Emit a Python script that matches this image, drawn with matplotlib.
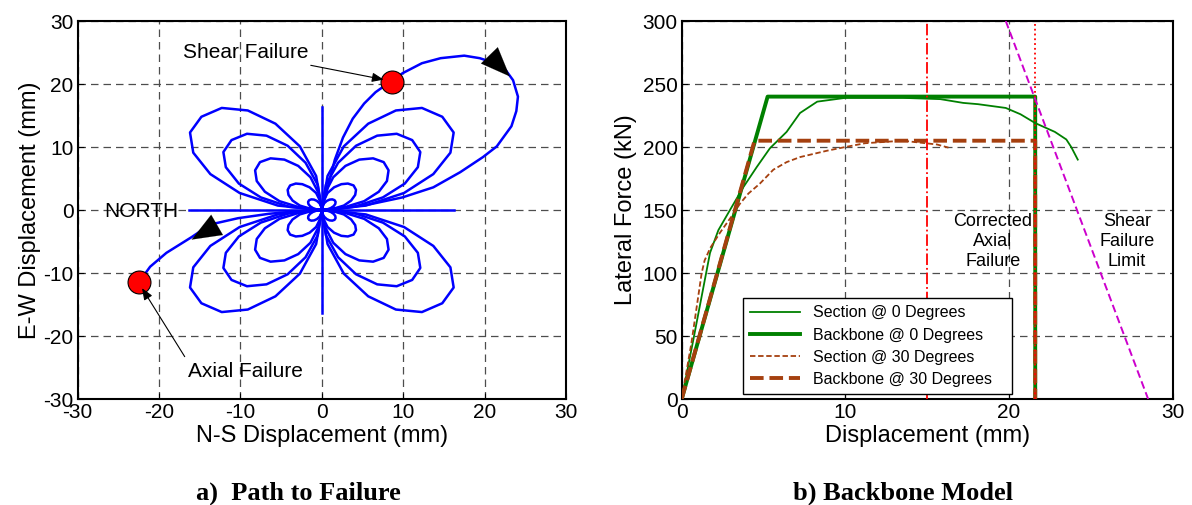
import numpy as np
import matplotlib.pyplot as plt

plt.rcParams['font.family'] = ['Liberation Sans', 'DejaVu Sans']
plt.rcParams['axes.unicode_minus'] = False

# ---- a) path to failure: quarter-petal outlines (first quadrant), mirrored to the others
petal1_x = [0, 0.57, 1.06, 1.44, 1.65, 1.69, 1.56, 1.29, 0.95, 0.60, 0.28, 0.07, 0]
petal1_y = [0, 0.07, 0.28, 0.60, 0.95, 1.29, 1.56, 1.69, 1.65, 1.44, 1.06, 0.57, 0]
petal2_x = [0, 1.4, 2.7, 3.6, 4.1, 4.2, 3.9, 3.2, 2.4, 1.5, 0.7, 0.2, 0]
petal2_y = [0, 0.2, 0.7, 1.5, 2.4, 3.2, 3.9, 4.2, 4.1, 3.6, 2.7, 1.4, 0]
petal3_x = [0, 2.7, 5.2, 7.0, 8.0, 8.2, 7.6, 6.3, 4.6, 2.9, 1.4, 0.4, 0]
petal3_y = [0, 0.4, 1.4, 2.9, 4.6, 6.3, 7.6, 8.2, 8.0, 7.0, 5.2, 2.7, 0]
petal4_x = [0, 4.0, 7.5, 10.2, 11.8, 12.1, 11.1, 9.2, 6.8, 4.2, 2.0, 0.5, 0]
petal4_y = [0, 0.5, 2.0, 4.2, 6.8, 9.2, 11.1, 12.1, 11.8, 10.2, 7.5, 4.0, 0]
petal5_x = [0, 5.4, 10.1, 13.7, 15.8, 16.2, 14.8, 12.3, 9.1, 5.7, 2.7, 0.7, 0]
petal5_y = [0, 0.7, 2.7, 5.7, 9.1, 12.3, 14.8, 16.2, 15.8, 13.7, 10.1, 5.4, 0]
quadrant_signs = [(1, 1), (-1, 1), (-1, -1), (1, -1)]
axis_reach = [-16.3, 16.3]

shear_path_x = [0, 0.8, 1.6, 2.6, 3.8, 5.2, 6.6, 7.8, 8.6, 9.9, 12.3, 14.6, 17.5, 19.4, 21.3,
                22.6, 23.5, 24.1, 23.9, 23.3, 21.5, 19.8, 17.0, 13.7, 9.9, 5.7, 1.9, 0]
shear_path_y = [0, 4.0, 8.0, 11.5, 14.5, 16.9, 18.7, 19.8, 20.3, 21.7, 23.3, 24.1, 24.5, 24.1, 23.3,
                22.2, 20.6, 18.0, 15.7, 13.3, 10.1, 8.4, 6.0, 3.6, 2.0, 0.85, 0.15, 0]
axial_path_x = [0, -3.0, -6.5, -10.3, -13.7, -16.0, -19.1, -21.1, -22.5]
axial_path_y = [0, -0.2, -0.6, -1.3, -2.3, -4.3, -6.8, -9.0, -11.5]
shear_pt = (8.6, 20.3)
axial_pt = (-22.5, -11.5)
dir_arrows = [((21.0, 24.0), (23.1, 21.2)), ((-13.2, -2.6), (-16.0, -4.7))]

# ---- b) backbone model
sec0_x = [0, 0.71, 1.73, 2.24, 2.95, 3.76, 4.58, 5.39, 6.41, 7.23, 8.28, 10.0, 13.5, 15.8,
          17.2, 18.1, 19.8, 20.7, 21.6, 22.8, 23.5, 23.8, 24.2]
sec0_y = [0, 47, 116, 134, 150, 168, 184, 199, 212, 227, 236, 239, 239, 238,
          235, 234, 231, 226, 219, 212, 206, 200, 190]
bb0_x = [0, 5.25, 21.6, 21.6]
bb0_y = [0, 240, 240, 0]
sec30_x = [0, 0.6, 1.22, 1.4, 1.75, 2.34, 3.05, 3.56, 4.07, 4.78, 5.6, 6.41, 7.23, 8.86,
           10.0, 11.2, 13.5, 14.9, 15.6, 16.3]
sec30_y = [0, 45, 100, 110, 120, 132, 145, 155, 163, 171, 182, 188, 192, 197,
           200, 203, 205, 203, 202, 199.5]
bb30_x = [0, 4.45, 21.6, 21.6]
bb30_y = [0, 205, 205, 0]
axial_corr_x = 15.0
axial_fail_x = 21.6
shear_lim_x = [19.8, 28.5]
shear_lim_y = [300, 0]

fig = plt.figure(figsize=(11.92, 5.05), dpi=100)
ax1 = fig.add_axes([0.0652, 0.2099, 0.4096, 0.7485])
ax2 = fig.add_axes([0.5719, 0.2099, 0.4119, 0.7485])

blue = (0, 0, 1)
petals = [(petal1_x, petal1_y), (petal2_x, petal2_y), (petal3_x, petal3_y),
          (petal4_x, petal4_y), (petal5_x, petal5_y)]
for px, py in petals:
    for sx, sy in quadrant_signs:
        ax1.plot(np.array(px) * sx, np.array(py) * sy, color=blue, lw=1.8, zorder=3)
ax1.plot(axis_reach, [0, 0], color=blue, lw=1.8, zorder=3)
ax1.plot([0, 0], axis_reach, color=blue, lw=1.8, zorder=3)
ax1.plot(shear_path_x, shear_path_y, color=blue, lw=1.8, zorder=3)
ax1.plot(axial_path_x, axial_path_y, color=blue, lw=1.8, zorder=3)

for tail, tip in dir_arrows:
    ax1.annotate('', xy=tip, xytext=tail,
                 arrowprops=dict(arrowstyle='-|>,head_length=0.75,head_width=0.3',
                                 mutation_scale=28, color='k', lw=0.1,
                                 shrinkA=0, shrinkB=0), zorder=5)

ax1.plot(*shear_pt, 'o', ms=16.5, mfc='red', mec='k', mew=0.8, zorder=6)
ax1.plot(*axial_pt, 'o', ms=16.5, mfc='red', mec='k', mew=0.8, zorder=6)

ax1.annotate('Shear Failure', xy=(7.6, 20.7), xytext=(-9.4, 25.0), fontsize=15,
             ha='center', va='center',
             arrowprops=dict(arrowstyle='-|>,head_length=0.5,head_width=0.2',
                             mutation_scale=14, color='k', lw=0.8, shrinkA=2, shrinkB=0),
             zorder=7)
ax1.annotate('Axial Failure', xy=(-22.1, -12.4), xytext=(-9.4, -25.6), fontsize=15,
             ha='center', va='center',
             arrowprops=dict(arrowstyle='-|>,head_length=0.5,head_width=0.2',
                             mutation_scale=14, color='k', lw=0.8, shrinkA=2, shrinkB=0,
                             relpos=(0.0, 1.0)),
             zorder=7)
ax1.text(-22.2, -0.3, 'NORTH', fontsize=15, ha='center', va='center', zorder=4)

ax1.set_xlim(-30, 30)
ax1.set_ylim(-30, 30)
ax1.set_xticks(range(-30, 31, 10))
ax1.set_yticks(range(-30, 31, 10))
ax1.set_xlabel('N-S Displacement (mm)', fontsize=17, labelpad=2)
ax1.set_ylabel('E-W Displacement (mm)', fontsize=17, labelpad=2)

green = '#008000'
brown = '#A5400F'
ax2.plot(sec0_x, sec0_y, color=green, lw=1.3, label='Section @ 0 Degrees', zorder=3)
ax2.plot(bb0_x, bb0_y, color=green, lw=2.8, label='Backbone @ 0 Degrees', zorder=3)
ax2.plot(sec30_x, sec30_y, color=brown, lw=1.3, ls=(0, (3, 1.5)), label='Section @ 30 Degrees', zorder=3)
ax2.plot(bb30_x, bb30_y, color=brown, lw=2.8, ls=(0, (3.5, 1.5)), label='Backbone @ 30 Degrees', zorder=3)
ax2.axvline(axial_corr_x, color='red', lw=1.3, ls='-.', zorder=4)
ax2.axvline(axial_fail_x, color='red', lw=1.3, ls=':', zorder=4)
ax2.plot(shear_lim_x, shear_lim_y, color='#CC00CC', lw=1.4, ls=(0, (4, 2)), zorder=4)

ax2.text(19.0, 125, 'Corrected\nAxial\nFailure', fontsize=13, ha='center', va='center',
         linespacing=1.25, zorder=5)
ax2.text(27.2, 125, 'Shear\nFailure\nLimit', fontsize=13, ha='center', va='center',
         linespacing=1.25, zorder=5)

leg = ax2.legend(loc='lower left', bbox_to_anchor=(0.125, 0.013, 0.548, 0.262), mode='expand',
                 fontsize=11.5, handlelength=3.1, labelspacing=0.45, borderpad=0.45,
                 fancybox=False, edgecolor='k', framealpha=1, borderaxespad=0)
leg.get_frame().set_linewidth(1.0)
leg.set_zorder(6)

ax2.set_xlim(0, 30)
ax2.set_ylim(0, 300)
ax2.set_xticks([0, 10, 20, 30])
ax2.set_yticks(range(0, 301, 50))
ax2.set_xlabel('Displacement (mm)', fontsize=17, labelpad=2)
ax2.set_ylabel('Lateral Force (kN)', fontsize=17, labelpad=4)

for ax in (ax1, ax2):
    ax.grid(True, ls=(0, (6, 4)), color='0.3', lw=0.9)
    ax.set_axisbelow(True)
    ax.tick_params(labelsize=15, direction='in', length=4, pad=3)
    for s in ax.spines.values():
        s.set_linewidth(1.5)

fig.text(298 / 1192, 1 - 493 / 505, 'a)  Path to Failure', fontsize=19, fontweight='bold',
         family='Liberation Serif', ha='center', va='center')
fig.text(903 / 1192, 1 - 493 / 505, 'b) Backbone Model', fontsize=19, fontweight='bold',
         family='Liberation Serif', ha='center', va='center')

fig.savefig('out.png', dpi=100)
